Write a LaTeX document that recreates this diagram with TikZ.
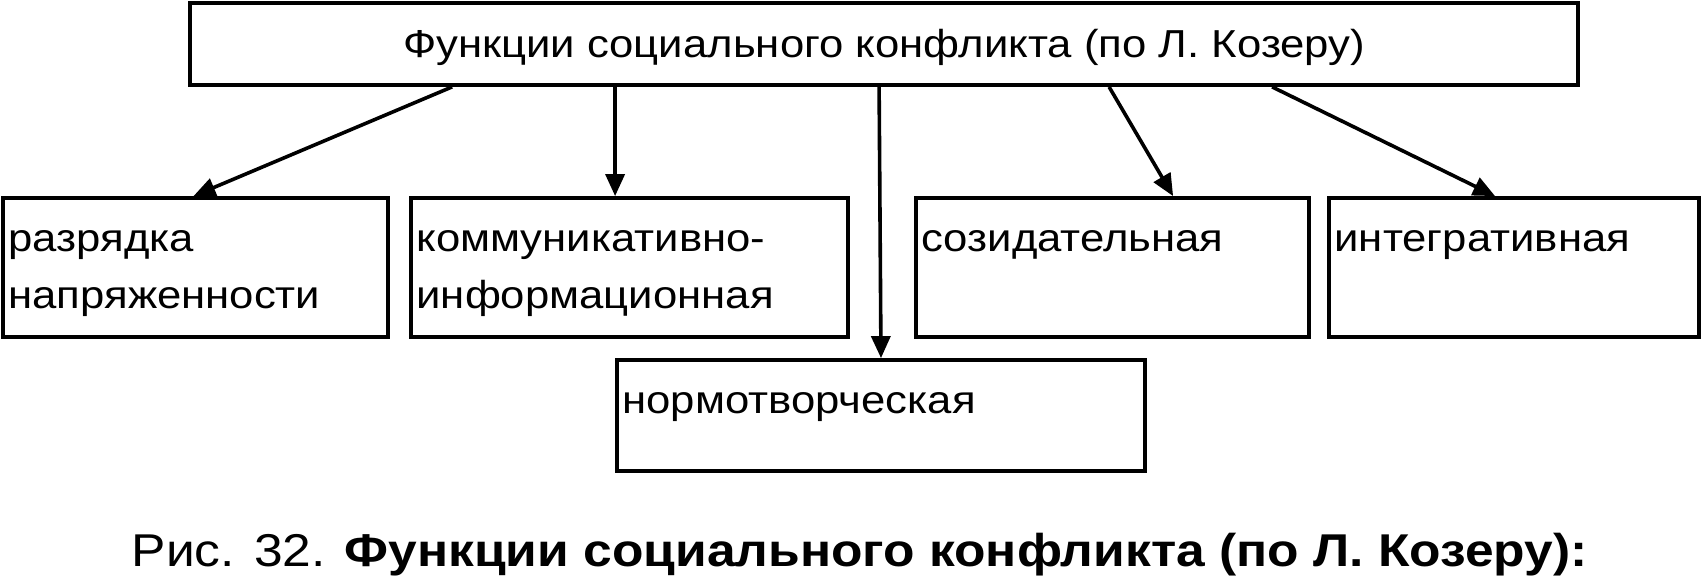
\documentclass[tikz,border=0pt]{standalone}
\usepackage{fontspec}
\setmainfont{Liberation Sans}[FakeStretch=1.12]
\usetikzlibrary{positioning,arrows.meta}

\begin{document}
\begin{tikzpicture}[x=0.5pt, y=-0.5pt,
  fbox/.style={rectangle, draw, line width=1.9pt, inner sep=0pt},
  lbl/.style={anchor=base west, inner sep=0pt, align=left, font=\fontsize{19.5pt}{28.5pt}\selectfont},
  arr/.style={line width=1.8pt, -{Triangle[length=11pt, width=9.5pt]}}]
\useasboundingbox (0,0) rectangle (1705,577);

% top box
\node[fbox, minimum width=694pt, minimum height=41pt, text height=18pt, text depth=4pt, font=\fontsize{19.5pt}{24pt}\selectfont] (title) at (884,44) {Функции социального конфликта (по Л. Козеру)};

% function boxes
\node[fbox, minimum width=192.5pt, minimum height=69.5pt] (razr) at (195.5,267.5) {};
\node[fbox, minimum width=218.5pt, minimum height=69.5pt] (komm) at (629.5,267.5) {};
\node[fbox, minimum width=196.5pt, minimum height=69.5pt] (sozid) at (1112.5,267.5) {};
\node[fbox, minimum width=185pt, minimum height=69.5pt] (integr) at (1514,267.5) {};
\node[fbox, minimum width=264pt, minimum height=55.5pt] (norm) at (881,415.5) {};

% labels (base = last line)
\node[lbl] (razrT) at ([xshift=3.5pt, yshift=-56pt]razr.north west) {разрядка\\напряженности};
\node[lbl] (kommT) at ([xshift=3.5pt, yshift=-56pt]komm.north west) {коммуникативно-\\информационная};
\node[lbl] (sozidT) at ([xshift=3.5pt, yshift=-27.5pt]sozid.north west) {созидательная};
\node[lbl] (integrT) at ([xshift=3.5pt, yshift=-27.5pt]integr.north west) {интегративная};
\node[lbl] (normT) at ([xshift=3.5pt, yshift=-27.5pt]norm.north west) {нормотворческая};

% arrows
\draw[arr] ([xshift=132pt]title.south west) -- ([xshift=-1pt]razr.north);
\draw[arr] ([xshift=213.5pt]title.south west) -- ([xshift=103pt]komm.north west);
\draw[arr] ([xshift=345.5pt]title.south west) -- (norm.north);
\draw[arr] ([xshift=460.5pt]title.south west) -- ([xshift=129.5pt]sozid.north west);
\draw[arr] ([xshift=542pt]title.south west) -- ([xshift=84pt]integr.north west);

% caption
\node[anchor=base east, inner sep=0pt, font=\fontsize{23pt}{27pt}\selectfont] (cap) at (1588,567) {Рис. 32. \textbf{Функции социального конфликта (по Л. Козеру):}};
\end{tikzpicture}
\end{document}
